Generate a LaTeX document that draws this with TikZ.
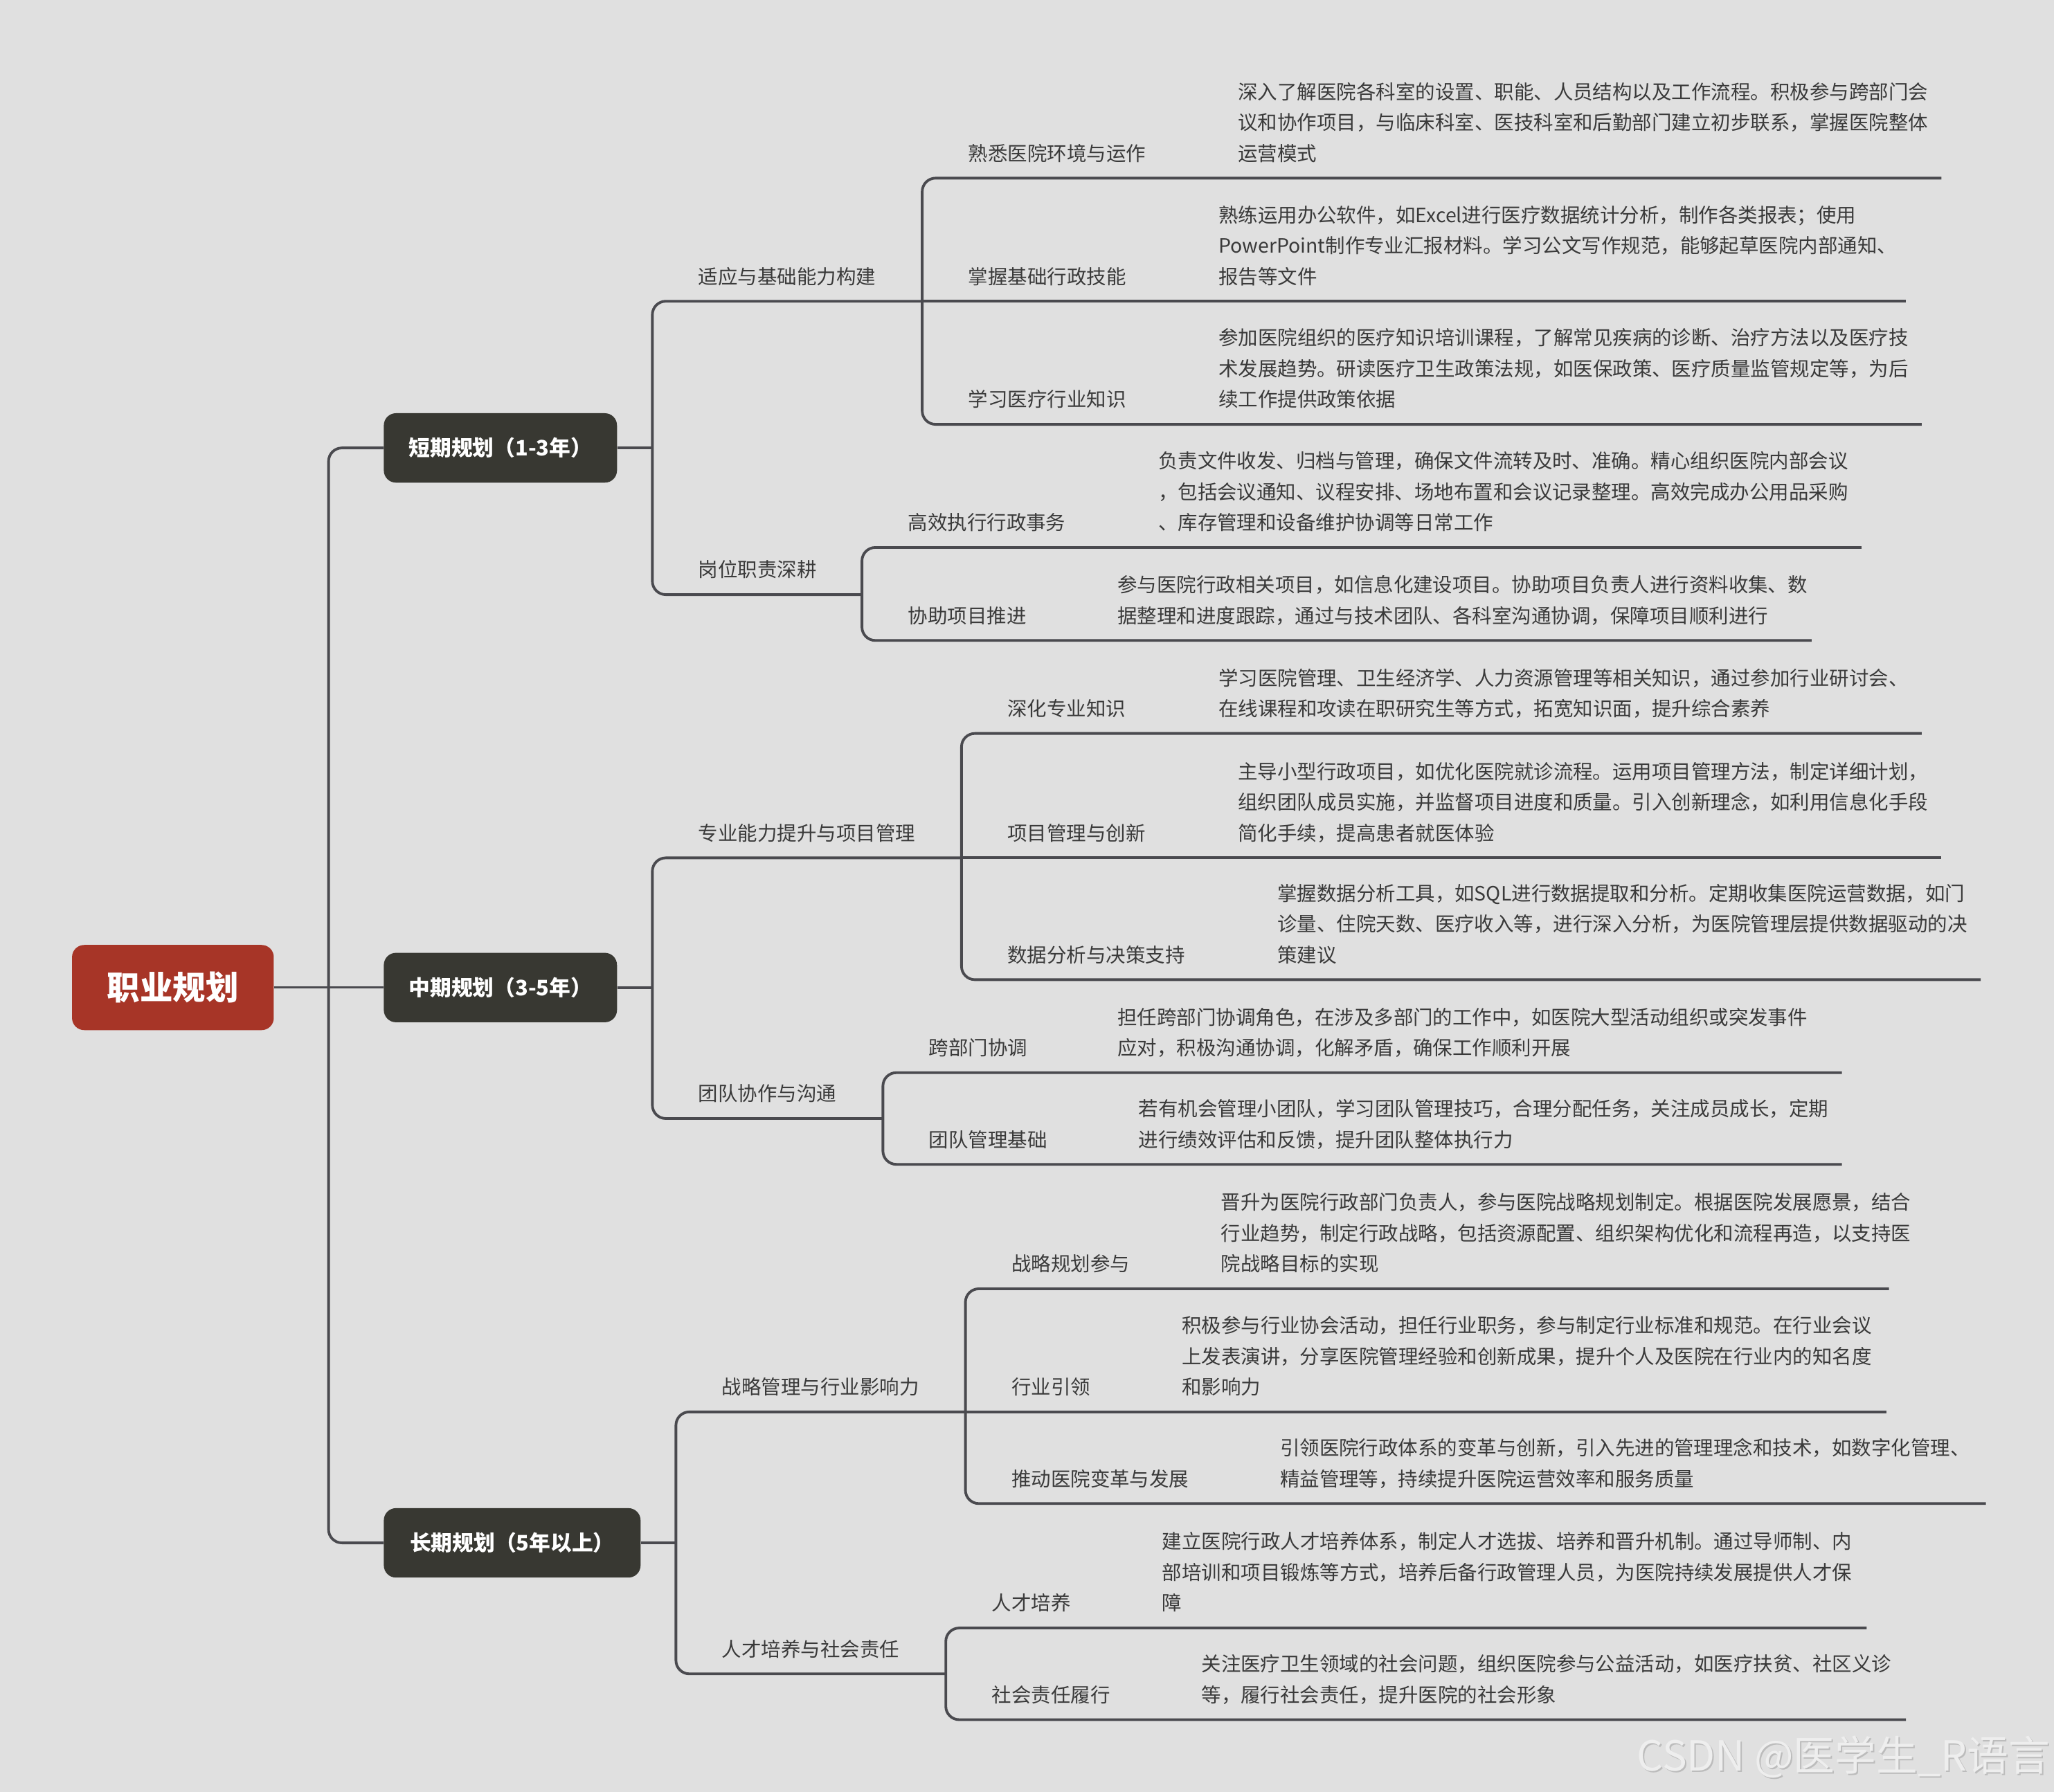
\documentclass[tikz,border=0pt]{standalone}
\usepackage{fontspec}
\setmainfont{Noto Sans CJK SC}
\usetikzlibrary{positioning}
\definecolor{bgc}{RGB}{224,224,224}
\definecolor{rootred}{RGB}{167,53,39}
\definecolor{boxdark}{RGB}{56,56,50}
\definecolor{linec}{RGB}{74,74,79}
\definecolor{txtc}{RGB}{58,58,58}
\definecolor{wmc}{RGB}{238,238,238}
\definecolor{wmshade}{RGB}{188,188,188}
% sub topic: name, bracket x, line y, line end x, label
\newcommand{\subtopic}[5]{%
  \coordinate (#1s) at (#2,#3);
  \coordinate (#1e) at (#4,#3);
  \node[toplbl] (#1) at ({#2+35},{#3-13.3}) {#5};}
% leaf: name, bracket x, line y, line end x, text x, label, text (last line sits on the label's baseline)
\newcommand{\leaf}[7]{%
  \coordinate (#1s) at (#2,#3);
  \coordinate (#1e) at (#4,#3);
  \node[toplbl] (#1) at ({#2+35},{#3-13.3}) {#6};
  \node[topdesc] (#1t) at ({#5},{#3-13.3}) {#7};}

\begin{document}
\begin{tikzpicture}[x=0.037844cm,y=-0.037844cm,
  branch/.style={draw=linec,line width=2.2pt},
  toplbl/.style={anchor=base west,inner sep=0pt,text=txtc,font=\fontsize{16.2pt}{25.3pt}\selectfont},
  topdesc/.style={toplbl,align=left},
  planbox/.style={fill=boxdark,rounded corners=10pt,minimum height=2.006cm,inner sep=0pt,text=white,font=\fontsize{17.5pt}{20pt}\selectfont\bfseries},
  rootbox/.style={fill=rootred,rounded corners=10pt,minimum width=5.828cm,minimum height=2.46cm,inner sep=0pt,text=white,font=\fontsize{27pt}{30pt}\selectfont\bfseries}]
\fill[bgc] (0,0) rectangle (1568,1368);
\useasboundingbox (0,0) rectangle (1568,1368);

% main topics
\node[rootbox] (root) at (132,754) {职业规划};
\node[planbox,minimum width=6.736cm] (short) at (382,342) {短期规划（1-3年）};
\node[planbox,minimum width=6.736cm] (mid) at (382,754) {中期规划（3-5年）};
\node[planbox,minimum width=7.417cm] (long) at (391,1178) {长期规划（5年以上）};
\draw[branch,line width=1.8pt] (root) -- (mid);
\draw[branch,rounded corners=11pt] (short.west) -- ++(-42,0) |- (long.west);

\subtopic{adapt}{498}{230}{704}{适应与基础能力构建}
\subtopic{duty}{498}{454}{658}{岗位职责深耕}
\subtopic{skill}{498}{655}{734}{专业能力提升与项目管理}
\subtopic{team}{498}{854}{674}{团队协作与沟通}
\subtopic{strat}{516}{1078}{737}{战略管理与行业影响力}
\subtopic{talent}{516}{1278}{722}{人才培养与社会责任}
\draw[branch] (short.east) -- (short.east -| adapts);
\draw[branch,rounded corners=11pt] (adapte) -- (adapts) -- (dutys) -- (dutye);
\draw[branch] (mid.east) -- (mid.east -| skills);
\draw[branch,rounded corners=11pt] (skille) -- (skills) -- (teams) -- (teame);
\draw[branch] (long.east) -- (long.east -| strats);
\draw[branch,rounded corners=11pt] (strate) -- (strats) -- (talents) -- (talente);

% short term
\leaf{a1}{704}{136}{1482}{945}{熟悉医院环境与运作}{深入了解医院各科室的设置、职能、人员结构以及工作流程。积极参与跨部门会\\议和协作项目，与临床科室、医技科室和后勤部门建立初步联系，掌握医院整体\\运营模式}
\leaf{a2}{704}{230}{1455}{930}{掌握基础行政技能}{熟练运用办公软件，如Excel进行医疗数据统计分析，制作各类报表；使用\\PowerPoint制作专业汇报材料。学习公文写作规范，能够起草医院内部通知、\\报告等文件}
\leaf{a3}{704}{324}{1467}{930}{学习医疗行业知识}{参加医院组织的医疗知识培训课程，了解常见疾病的诊断、治疗方法以及医疗技\\术发展趋势。研读医疗卫生政策法规，如医保政策、医疗质量监管规定等，为后\\续工作提供政策依据}
\draw[branch,rounded corners=11pt] (a1e) -- (a1s) -- (a3s) -- (a3e);
\draw[branch] (a2s) -- (a2e);
\leaf{b1}{658}{418}{1421}{884}{高效执行行政事务}{负责文件收发、归档与管理，确保文件流转及时、准确。精心组织医院内部会议\\，包括会议通知、议程安排、场地布置和会议记录整理。高效完成办公用品采购\\、库存管理和设备维护协调等日常工作}
\leaf{b2}{658}{489}{1383}{853}{协助项目推进}{参与医院行政相关项目，如信息化建设项目。协助项目负责人进行资料收集、数\\据整理和进度跟踪，通过与技术团队、各科室沟通协调，保障项目顺利进行}
\draw[branch,rounded corners=11pt] (b1e) -- (b1s) -- (b2s) -- (b2e);

% mid term
\leaf{c1}{734}{560}{1467}{930}{深化专业知识}{学习医院管理、卫生经济学、人力资源管理等相关知识，通过参加行业研讨会、\\在线课程和攻读在职研究生等方式，拓宽知识面，提升综合素养}
\leaf{c2}{734}{655}{1482}{945}{项目管理与创新}{主导小型行政项目，如优化医院就诊流程。运用项目管理方法，制定详细计划，\\组织团队成员实施，并监督项目进度和质量。引入创新理念，如利用信息化手段\\简化手续，提高患者就医体验}
\leaf{c3}{734}{748}{1512}{975}{数据分析与决策支持}{掌握数据分析工具，如SQL进行数据提取和分析。定期收集医院运营数据，如门\\诊量、住院天数、医疗收入等，进行深入分析，为医院管理层提供数据驱动的决\\策建议}
\draw[branch,rounded corners=11pt] (c1e) -- (c1s) -- (c3s) -- (c3e);
\draw[branch] (c2s) -- (c2e);
\leaf{d1}{674}{819}{1406}{853}{跨部门协调}{担任跨部门协调角色，在涉及多部门的工作中，如医院大型活动组织或突发事件\\应对，积极沟通协调，化解矛盾，确保工作顺利开展}
\leaf{d2}{674}{889}{1406}{869}{团队管理基础}{若有机会管理小团队，学习团队管理技巧，合理分配任务，关注成员成长，定期\\进行绩效评估和反馈，提升团队整体执行力}
\draw[branch,rounded corners=11pt] (d1e) -- (d1s) -- (d2s) -- (d2e);

% long term
\leaf{e1}{737}{984}{1442}{932}{战略规划参与}{晋升为医院行政部门负责人，参与医院战略规划制定。根据医院发展愿景，结合\\行业趋势，制定行政战略，包括资源配置、组织架构优化和流程再造，以支持医\\院战略目标的实现}
\leaf{e2}{737}{1078}{1440}{902}{行业引领}{积极参与行业协会活动，担任行业职务，参与制定行业标准和规范。在行业会议\\上发表演讲，分享医院管理经验和创新成果，提升个人及医院在行业内的知名度\\和影响力}
\leaf{e3}{737}{1148}{1516}{977}{推动医院变革与发展}{引领医院行政体系的变革与创新，引入先进的管理理念和技术，如数字化管理、\\精益管理等，持续提升医院运营效率和服务质量}
\draw[branch,rounded corners=11pt] (e1e) -- (e1s) -- (e3s) -- (e3e);
\draw[branch] (e2s) -- (e2e);
\leaf{f1}{722}{1243}{1425}{887}{人才培养}{建立医院行政人才培养体系，制定人才选拔、培养和晋升机制。通过导师制、内\\部培训和项目锻炼等方式，培养后备行政管理人员，为医院持续发展提供人才保\\障}
\leaf{f2}{722}{1313}{1455}{917}{社会责任履行}{关注医疗卫生领域的社会问题，组织医院参与公益活动，如医疗扶贫、社区义诊\\等，履行社会责任，提升医院的社会形象}
\draw[branch,rounded corners=11pt] (f1e) -- (f1s) -- (f2s) -- (f2e);

\node[anchor=base east,inner sep=0pt,text=wmshade,font=\fontsize{34pt}{36pt}\selectfont] (wmshadow) at (1566,1353) {CSDN @医学生\_R语言};
\node[anchor=base east,inner sep=0pt,text=wmc,font=\fontsize{34pt}{36pt}\selectfont] (wm) at (1565,1352) {CSDN @医学生\_R语言};
\end{tikzpicture}
\end{document}
